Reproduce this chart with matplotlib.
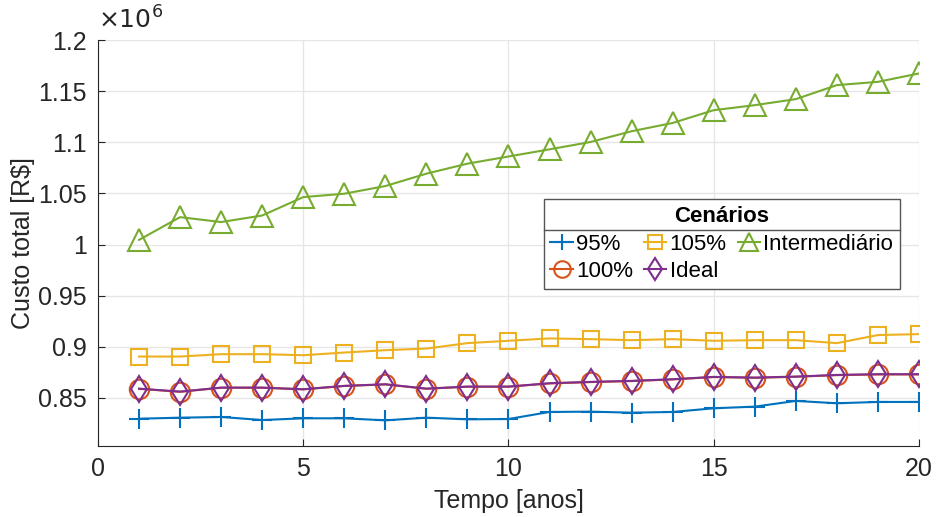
import numpy as np
import matplotlib
matplotlib.use("Agg")
from matplotlib import pyplot as plt

plt.rcParams['font.family'] = ['Liberation Sans', 'DejaVu Sans']

anos = np.arange(1, 21)

# custo total em milhoes de R$ (eixo com fator x10^6)
c95 = [0.8297, 0.8307, 0.8314, 0.8284, 0.8301, 0.8301, 0.8281, 0.8307, 0.8291, 0.8294,
       0.8363, 0.8366, 0.8356, 0.8363, 0.8399, 0.8415, 0.8471, 0.8448, 0.8461, 0.8461]
c100 = [0.8589, 0.8560, 0.8600, 0.8600, 0.8584, 0.8617, 0.8632, 0.8590, 0.8610, 0.8610,
        0.8642, 0.8655, 0.8665, 0.8681, 0.8704, 0.8697, 0.8707, 0.8723, 0.8730, 0.8730]
c105 = [0.8905, 0.8905, 0.8928, 0.8928, 0.8918, 0.8944, 0.8967, 0.8983, 0.9036, 0.9059,
        0.9082, 0.9075, 0.9065, 0.9075, 0.9059, 0.9065, 0.9065, 0.9036, 0.9115, 0.9124]
ideal = [0.8591, 0.8562, 0.8601, 0.8601, 0.8585, 0.8618, 0.8634, 0.8591, 0.8611, 0.8611,
         0.8644, 0.8657, 0.8667, 0.8683, 0.8706, 0.8699, 0.8709, 0.8725, 0.8732, 0.8732]
interm = [1.0046, 1.0268, 1.0220, 1.0284, 1.0464, 1.0497, 1.0572, 1.0693, 1.0791, 1.0861,
          1.0931, 1.1003, 1.1108, 1.1189, 1.1314, 1.1363, 1.1422, 1.1559, 1.1591, 1.1673]

fig = plt.figure(figsize=(9.36, 5.17), dpi=100)
ax = fig.add_axes([0.1047, 0.1373, 0.8771, 0.7853])

ax.plot(anos, c95, '-+', color='#0072BD', lw=1.5, ms=14, mew=1.5, label='95%')
ax.plot(anos, c100, '-o', color='#D95319', lw=1.5, ms=14, mew=1.5, mfc='none', label='100%')
ax.plot(anos, c105, '-s', color='#EDB120', lw=1.5, ms=12, mew=1.5, mfc='none', label='105%')
ax.plot(anos, ideal, '-d', color='#7E2F8E', lw=1.5, ms=13.5, mew=1.5, mfc='none', label='Ideal')
ax.plot(anos, interm, '-^', color='#77AC30', lw=1.5, ms=16, mew=1.5, mfc='none', label='Intermediário')

ax.set_xlim(0, 20)
ax.set_ylim(0.803, 1.2)
ax.set_xticks([0, 5, 10, 15, 20])
ax.set_yticks(np.arange(0.85, 1.2001, 0.05))
ax.set_yticklabels(['0.85', '0.9', '0.95', '1', '1.05', '1.1', '1.15', '1.2'])
ax.grid(True, color='#e6e6e6', lw=1)
ax.set_axisbelow(True)
for s in ['top', 'right']:
    ax.spines[s].set_visible(False)
for s in ['left', 'bottom']:
    ax.spines[s].set_color('#262626')
ax.tick_params(direction='in', length=5, colors='#262626', labelsize=18, pad=8)

ax.set_xlabel('Tempo [anos]', fontsize=18, color='#262626', labelpad=6)
ax.set_ylabel('Custo total [R$]', fontsize=18, color='#262626', labelpad=2)
ax.text(0.0, 1.015, r'$\times10^{6}$', transform=ax.transAxes, fontsize=18,
        color='#262626', ha='left', va='bottom', math_fontfamily='dejavusans')

leg = ax.legend(ncol=3, title='Cenários', loc='upper left', bbox_to_anchor=(0.543, 0.608),
                fontsize=16, title_fontproperties={'weight': 'bold', 'size': 16},
                frameon=True, fancybox=False, edgecolor='#555555', framealpha=1,
                handlelength=1.0, handletextpad=0.15, columnspacing=0.5, markerscale=0.85,
                labelspacing=0.3, borderpad=0.3, borderaxespad=0)
leg.get_frame().set_linewidth(1)

# linha separadora sob o titulo da legenda
fig.canvas.draw()
r = fig.canvas.get_renderer()
fb = leg.get_frame().get_window_extent(r)
tb = leg.get_title().get_window_extent(r)
inv = fig.transFigure.inverted()
(x0, y0), (x1, _) = inv.transform([[fb.x0, tb.y0 - 3], [fb.x1, tb.y0 - 3]])
fig.add_artist(plt.Line2D([x0, x1], [y0, y0], color='#555555', lw=1, zorder=10))

fig.savefig('out.png', dpi=100)
